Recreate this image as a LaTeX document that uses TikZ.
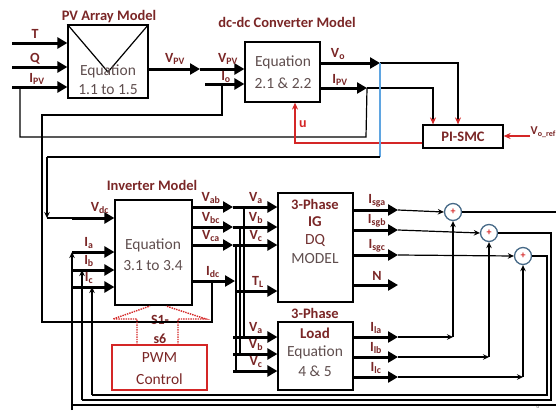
\documentclass[tikz,border=0pt]{standalone}
\usepackage{fontspec}
\setmainfont{Carlito}
\usetikzlibrary{arrows.meta,calc}
\definecolor{tred}{RGB}{122,38,38}
\definecolor{bgray}{RGB}{95,78,78}
\definecolor{cblue}{RGB}{70,105,135}
\definecolor{lblue}{RGB}{95,165,225}
\definecolor{pred}{RGB}{212,38,38}
\begin{document}
\begin{tikzpicture}[x=1pt,y=-1pt,
 box/.style={draw,line width=1.2pt,inner sep=0pt},
 big/.style={line width=3pt,-{Triangle[length=10pt,width=11pt]}},
 wire/.style={line width=1.2pt},
 warr/.style={wire,-{Stealth[length=6pt,width=5.5pt]}},
 rarr/.style={wire,-{Stealth[length=7pt,width=6pt,color=pred]}},
 ttl/.style={font=\bfseries\fontsize{14.5}{16}\selectfont,text=tred,inner sep=0pt},
 body/.style={font=\fontsize{15.5}{17}\selectfont,text=bgray,inner sep=0pt},
 lab/.style={font=\bfseries\fontsize{14}{15}\selectfont,text=tred,inner sep=0pt},
 sumc/.style={circle,draw=cblue,line width=1.3pt,minimum size=17pt,inner sep=0pt,text=pred,font=\bfseries},
]
\useasboundingbox (0,0) rectangle (556,410);

% ---------- boxes ----------
\node[box,minimum width=80pt,minimum height=73pt] (pv) at (108,61.5) {};
\draw[wire] (pv.north west) -- (108,72) -- (pv.north east);
\node[box,minimum width=75pt,minimum height=60pt] (dcdc) at (282.5,72) {};
\node[box,minimum width=77pt,minimum height=105pt] (inv) at (153.5,252.5) {};
\node[box,minimum width=75pt,minimum height=109pt] (ig) at (315.5,247.5) {};
\node[box,minimum width=75pt,minimum height=68pt] (load) at (315.5,356) {};
\node[draw=pred,line width=1.2pt,minimum width=95pt,minimum height=45pt,inner sep=0pt] (pwm) at (159.5,367.5) {};
\node[box,minimum width=80pt,minimum height=23pt] (pismc) at (463,136.5) {};
\node[sumc] (c1) at (453,212) {+};
\node[sumc] (c2) at (489,233) {+};
\node[sumc] (c3) at (523,256) {+};

% ---------- titles and box texts ----------
\node[ttl] (tpv) at (109,17) {PV Array Model};
\node[ttl] (tdc) at (287,22) {dc-dc Converter Model};
\node[ttl] (tinv) at (152,185) {Inverter Model};
\node[ttl] (tig) at (315,204) {3-Phase};
\node[ttl] (tld) at (315,313) {3-Phase};
\node[body] (e1) at (108,71) {Equation};
\node[body] (e1b) at (108,90) {1.1 to 1.5};
\node[body] (e2) at (283,62) {Equation};
\node[body] (e2b) at (283,83) {2.1 \& 2.2};
\node[body] (e3) at (153,245) {Equation};
\node[body] (e3b) at (153,266) {3.1 to 3.4};
\node[ttl,font=\bfseries\fontsize{15}{17}\selectfont] (ig1) at (315,222) {IG};
\node[body,text=tred!70!bgray] (ig2) at (315,240) {DQ};
\node[body] (ig3) at (315,259) {MODEL};
\node[ttl,font=\bfseries\fontsize{15}{17}\selectfont] (ld1) at (315,333) {Load};
\node[body] (ld2) at (315,352) {Equation};
\node[body] (ld3) at (315,371) {4 \& 5};
\node[body,text=tred] (pw1) at (159.5,358) {PWM};
\node[body,text=tred] (pw2) at (159.5,379) {Control};
\node[lab,font=\bfseries\fontsize{14.5}{16}\selectfont] (tsm) at (463,137) {PI-SMC};
\node[lab] (s1) at (160,320) {S1-};
\node[lab] (s6) at (160,339) {s6};
\node[font=\fontsize{6}{7}\selectfont,text=gray] (pg) at (538,406) {6};

% ---------- PV array inputs ----------
\draw[big] (12,43) -- (pv.west|-0,43);
\draw[big] (12,67) -- (pv.west|-0,67);
\draw[big] (12,87) -- (pv.west|-0,87);
\node[lab] (lT) at (35,34) {T};
\node[lab] (lQ) at (35,59) {Q};
\node[lab] (lI) at (37,79) {I\textsubscript{PV}};

% ---------- PV -> dc-dc ----------
\coordinate (m1) at (200,69);
\draw[big] (pv.east|-0,69) -- (m1);
\draw[big] (m1) -- (dcdc.west|-0,69);
\node[lab] (lv1) at (175,59) {V\textsubscript{PV}};
\node[lab] (lv2) at (228,59) {V\textsubscript{PV}};
\draw[big] (205,84) -- (dcdc.west|-0,84);
\node[lab] (lio) at (226,77) {I\textsubscript{o}};

% ---------- dc-dc outputs ----------
\coordinate (vo) at (380,63);
\coordinate (ipv) at (367,88);
\draw[big] (dcdc.east|-0,63) -- (vo);
\draw[big] (dcdc.east|-0,88) -- (ipv);
\node[lab] (lvo) at (338,54) {V\textsubscript{o}};
\node[lab] (lipv) at (340,80) {I\textsubscript{PV}};
\draw[rarr] (vo) -- (458,63) -- (pismc.north-|458,0);
\draw[rarr] (ipv) -- (433,88) -- (pismc.north-|433,0);
% I_PV feedback to PV array
\draw[wire] (ipv) -- (366,137) -- (20,137) -- (20,87);
% u control
\draw[wire,pred,-{Stealth[length=7pt,width=6pt]}] (pismc.west|-0,143) -- (295,143) -- (dcdc.south-|295,0);
\node[lab,text=pred] (lu) at (303,124) {u};
% V_o ref
\draw[wire,pred,-{Stealth[length=7pt,width=6pt]}] (530,136) -- (pismc.east|-0,136);
\node[lab,anchor=east,font=\bfseries\fontsize{12}{13}\selectfont] (lref) at (556,132) {V\textsubscript{o\_ref}};

% ---------- V_o feedback to inverter V_dc ----------
\draw[wire,lblue] (vo) -- (380,157);
\draw[wire] (380,157) -- (47,157);
\draw[warr] (47,157) -- (47,218);
\draw[wire] (47,218) -- (72,218);
\draw[big] (72,218) -- (inv.west|-0,218);
\node[lab] (lvdc) at (100,208) {V\textsubscript{dc}};

% ---------- I_o loop ----------
\coordinate (idc) at (235,281);
\draw[big] (inv.east|-0,281) -- (idc);
\node[lab] (lidc) at (213,272) {I\textsubscript{dc}};
\draw[wire] (212,281) -- (212,322) -- (42,322) -- (42,115) -- (222,115) -- (222,84);

% ---------- inverter outputs ----------
\foreach \y/\a/\b/\n in {207/ab/a/1,227/bc/b/2,245/ca/c/3}{
  \coordinate (j\n) at (233,\y);
  \draw[big] (inv.east|-0,\y) -- (j\n);
  \draw[big] (j\n) -- (ig.west|-0,\y);
  \node[lab] at (211,\y-9) {V\textsubscript{\a}};
  \node[lab] at (256,\y-9) {V\textsubscript{\b}};
}
\draw[big] (235,291) -- (ig.west|-0,291);
\node[lab] (ltl) at (258,282) {T\textsubscript{L}};
% bus to load
\draw[wire] (244,207) -- (244,337);
\draw[wire] (240,227) -- (240,354);
\draw[wire] (236,245) -- (236,371);
\foreach \y/\b in {337/a,354/b,371/c}{
  \draw[big] (233,\y) -- (load.west|-0,\y);
  \node[lab] at (256,\y-9) {V\textsubscript{\b}};
}

% ---------- IG outputs ----------
\foreach \y/\s/\c in {210/a/c1,230/b/c2,255/c/c3}{
  \draw[big] (ig.east|-0,\y) -- (398,\y);
  \draw[warr] (398,\y) -- (\c.west);
  \node[lab] at (377,\y-9) {I\textsubscript{sg\s}};
}
\draw[big] (ig.east|-0,285) -- (398,285);
\node[lab] (lN) at (377,276) {N};

% ---------- load outputs ----------
\foreach \y/\s/\c in {337/a/c1,357/b/c2,377/c/c3}{
  \draw[big] (load.east|-0,\y) -- (398,\y);
  \draw[warr] (398,\y) -- (\c|-0,\y);
  \draw[warr] (\c|-0,\y) -- (\c.south);
  \node[lab] at (376,\y-9) {I\textsubscript{l\s}};
}

% ---------- current feedback to inverter ----------
\draw[wire] (c1.east) -- (556,212);
\draw[wire] (c2.east) -- (551,233) -- (551,400) -- (82,400);
\draw[wire] (c3.east) -- (547,256) -- (547,395) -- (92,395);
\draw[wire] (556,405) -- (72,405);
\draw[warr] (72,410) -- (72,252);
\draw[warr] (82,400) -- (82,270);
\draw[warr] (92,395) -- (92,287);
\draw[big] (72,252) -- (inv.west|-0,252);
\draw[big] (72,270) -- (inv.west|-0,270);
\draw[big] (72,287) -- (inv.west|-0,287);
\node[lab] (lia) at (89,243) {I\textsubscript{a}};
\node[lab] (lib) at (89,261) {I\textsubscript{b}};
\node[lab] (lic) at (89,278) {I\textsubscript{c}};

% ---------- PWM gating (dotted) ----------
\draw[pred,densely dotted,line width=1.4pt] (137,345) -- (137,319) -- (113,319) -- (150,306);
\draw[pred,densely dotted,line width=1.4pt] (178,345) -- (178,319) -- (206,319) -- (166,306);
\end{tikzpicture}
\end{document}
